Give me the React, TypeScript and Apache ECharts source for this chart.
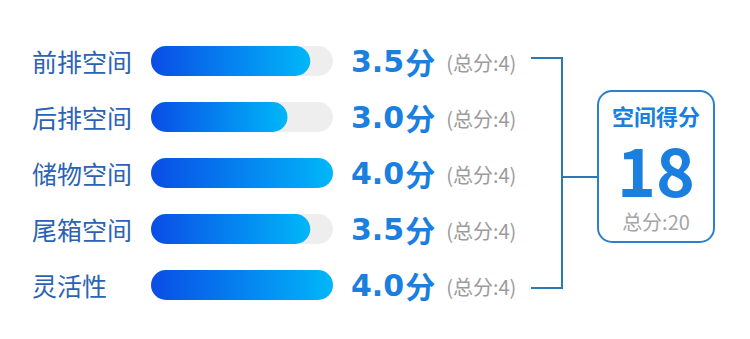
import React, { useEffect, useRef } from "react";
import * as echarts from "echarts";

const categories = ["前排空间", "后排空间", "储物空间", "尾箱空间", "灵活性"];
const scores = [3.5, 3.0, 4.0, 3.5, 4.0];
const fullScores = [4, 4, 4, 4, 4];
const summaryTitle = "空间得分";

const FONT = "'Noto Sans CJK SC', 'Noto Sans', sans-serif";
const NUM_FONT = "'DejaVu Sans', 'Noto Sans CJK SC', sans-serif";

export default function App() {
  const ref = useRef<HTMLDivElement>(null);

  useEffect(() => {
    if (!ref.current) return;
    const chart = echarts.init(ref.current, null, { renderer: "svg" });
    const total = scores.reduce((a, b) => a + b, 0);
    const totalMax = fullScores.reduce((a, b) => a + b, 0);
    const scoreLabels = scores.map(
      (s, i) => `{v|${s.toFixed(1)}}{u|分}{t|(总分:${fullScores[i]})}`
    );

    chart.setOption({
      animation: false,
      grid: { left: 151, width: 182, top: 33, height: 280 },
      xAxis: { type: "value", min: 0, max: 4, show: false },
      yAxis: [
        {
          type: "category",
          data: categories,
          inverse: true,
          axisLine: { show: false },
          axisTick: { show: false },
          axisLabel: {
            align: "left",
            margin: 119,
            color: "#2b63b4",
            fontSize: 25,
            fontFamily: FONT,
          },
        },
        {
          type: "category",
          data: scoreLabels,
          inverse: true,
          position: "right",
          axisLine: { show: false },
          axisTick: { show: false },
          axisLabel: {
            margin: 18,
            align: "left",
            fontFamily: FONT,
            rich: {
              v: {
                fontSize: 30,
                fontWeight: "bold",
                color: "#1a7fdf",
                fontFamily: NUM_FONT,
              },
              u: {
                fontSize: 30,
                fontWeight: "bold",
                color: "#1a7fdf",
                fontFamily: FONT,
                padding: [0, 0, 0, 1],
              },
              t: {
                fontSize: 20,
                color: "#9b9b9b",
                fontFamily: FONT,
                padding: [3, 0, 0, 11],
              },
            },
          },
        },
      ],
      series: [
        {
          type: "bar",
          data: scores,
          barWidth: 30,
          showBackground: true,
          backgroundStyle: { color: "#eeeeee", borderRadius: 15 },
          itemStyle: {
            borderRadius: 15,
            color: new echarts.graphic.LinearGradient(0, 0, 1, 0, [
              { offset: 0, color: "#0a4de6" },
              { offset: 1, color: "#00b7f9" },
            ]),
          },
        },
      ],
      graphic: [
        {
          type: "polyline",
          shape: {
            points: [
              [531, 58],
              [562, 58],
              [562, 288],
              [531, 288],
            ],
          },
          style: { stroke: "#2a78b6", lineWidth: 2, fill: "none" },
        },
        {
          type: "line",
          shape: { x1: 562, y1: 177, x2: 598, y2: 177 },
          style: { stroke: "#2a78b6", lineWidth: 2 },
        },
        {
          type: "rect",
          shape: { x: 598, y: 91, width: 116, height: 151, r: 14 },
          style: { fill: "#ffffff", stroke: "#2c80cc", lineWidth: 2 },
        },
        {
          type: "text",
          x: 656,
          y: 115,
          style: {
            text: summaryTitle,
            fill: "#1a7fdf",
            fontSize: 22,
            fontWeight: "bold",
            fontFamily: FONT,
            align: "center",
            verticalAlign: "middle",
            lineHeight: 24,
          },
        },
        {
          type: "text",
          x: 656,
          y: 168,
          style: {
            text: String(total),
            fill: "#1a7fdf",
            fontSize: 66,
            fontWeight: "bold",
            fontFamily: FONT,
            align: "center",
            verticalAlign: "middle",
            lineHeight: 54,
          },
        },
        {
          type: "text",
          x: 656,
          y: 221,
          style: {
            text: `总分:${totalMax}`,
            fill: "#a5a5a5",
            fontSize: 20,
            fontFamily: FONT,
            align: "center",
            verticalAlign: "middle",
            lineHeight: 22,
          },
        },
      ],
    });
    return () => chart.dispose();
  }, []);

  return (
    <div
      ref={ref}
      style={{
        position: "fixed",
        left: 0,
        top: 0,
        width: 750,
        height: 339,
        background: "#ffffff",
      }}
    />
  );
}
